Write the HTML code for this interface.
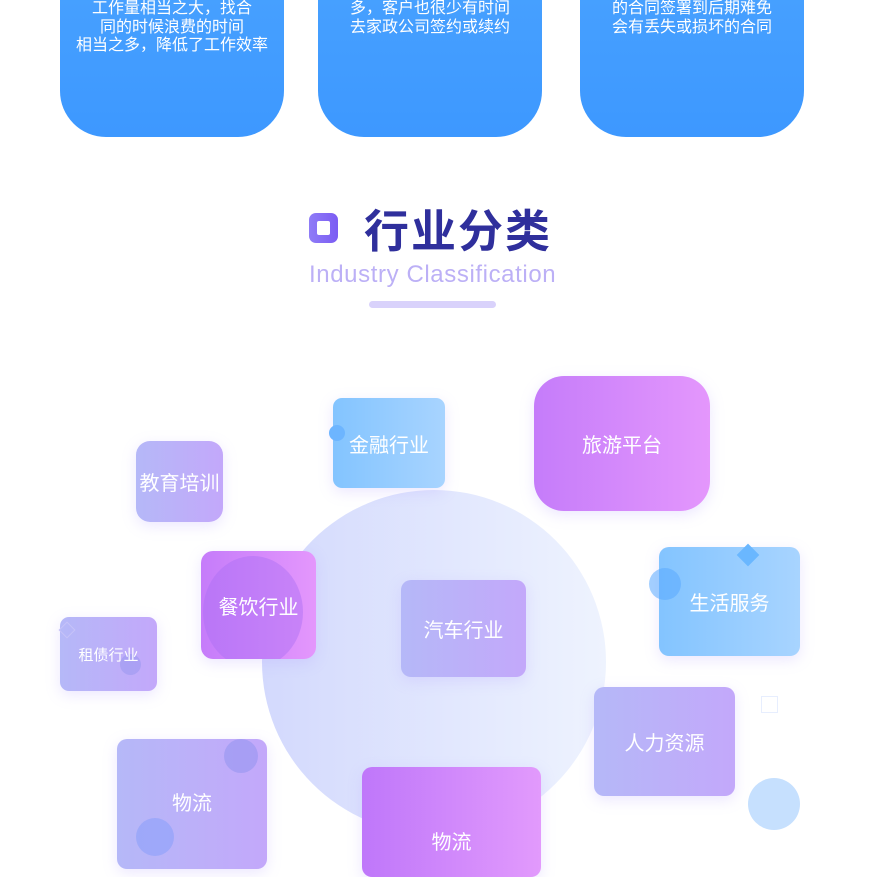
<!DOCTYPE html>
<html><head><meta charset="utf-8"><style>
*{margin:0;padding:0;box-sizing:border-box}
body{width:890px;height:849px;overflow:hidden;background:#fff;position:relative;font-family:"Liberation Sans","Noto Sans CJK SC",sans-serif}
.a{position:absolute}
.card{position:absolute;top:-60px;height:197px;width:224px;border-radius:0 0 46px 46px;background:linear-gradient(180deg,#4aa3ff,#3d98ff);color:#fff;font-size:16px;line-height:18.5px;text-align:center;padding-top:60px}
.b{position:absolute;display:flex;align-items:center;justify-content:center;color:#fff;font-size:20px;box-shadow:0 4px 14px rgba(180,160,255,.25)}
.lav{background:linear-gradient(90deg,#b5b8f8,#c3a8fa)}
.pur{background:linear-gradient(90deg,#c57cfa,#e497fc)}
.blu{background:linear-gradient(90deg,#83c4ff,#a8d4ff)}
.c{position:absolute;border-radius:50%}
</style></head><body>
<div class="card" style="left:60px">工作量相当之大，找合<br>同的时候浪费的时间<br>相当之多，降低了工作效率</div>
<div class="card" style="left:318px">多，客户也很少有时间<br>去家政公司签约或续约</div>
<div class="card" style="left:580px">的合同签署到后期难免<br>会有丢失或损坏的合同</div>

<div class="a" style="left:309px;top:213px;width:29px;height:30px;border-radius:7px;background:linear-gradient(90deg,#8f7cf7,#7b5cf3)"></div>
<div class="a" style="left:317px;top:221px;width:13px;height:14px;border-radius:2px;background:#fff"></div>
<div class="a" style="left:364px;top:202px;font-size:45px;color:#2f2f9c;font-weight:bold;letter-spacing:2px;line-height:60px">行业分类</div>
<div class="a" style="left:309px;top:261px;font-size:24px;letter-spacing:0.6px;color:#bcb0f6;line-height:28px">Industry Classification</div>
<div class="a" style="left:369px;top:301px;width:127px;height:7px;border-radius:4px;background:#d9d2fb"></div>

<div class="c" style="left:262px;top:490px;width:344px;height:344px;background:linear-gradient(90deg,#d3d9fd,#eef3fe)"></div>

<div class="b lav" style="left:136px;top:441px;width:87px;height:81px;border-radius:14px">教育培训</div>
<div class="b blu" style="left:333px;top:398px;width:112px;height:90px;border-radius:9px">金融行业</div>
<div class="c" style="left:329px;top:425px;width:16px;height:16px;background:#6db5ff"></div>
<div class="b pur" style="left:534px;top:376px;width:176px;height:135px;border-radius:30px">旅游平台</div>
<div class="b pur" style="left:201px;top:551px;width:115px;height:108px;border-radius:12px;overflow:hidden"><div class="c" style="left:2px;top:5px;width:100px;height:112px;background:rgba(170,110,245,.45)"></div><span style="position:relative">餐饮行业</span></div>
<div class="b lav" style="left:60px;top:617px;width:97px;height:74px;border-radius:9px;font-size:15px"><div class="c" style="left:60px;top:37px;width:21px;height:21px;background:rgba(150,150,240,.5)"></div><span style="position:relative">租债行业</span></div>
<div class="a" style="left:61px;top:624px;width:12px;height:12px;border:1px solid #c7c3f8;transform:rotate(45deg)"></div>
<div class="b lav" style="left:401px;top:580px;width:125px;height:97px;border-radius:10px">汽车行业</div>
<div class="b blu" style="left:659px;top:547px;width:141px;height:109px;border-radius:10px">生活服务</div>
<div class="c" style="left:649px;top:568px;width:32px;height:32px;background:rgba(90,170,255,.55)"></div>
<div class="a" style="left:740px;top:547px;width:16px;height:16px;background:#6ab7ff;transform:rotate(45deg)"></div>
<div class="b lav" style="left:594px;top:687px;width:141px;height:109px;border-radius:10px">人力资源</div>
<div class="a" style="left:761px;top:696px;width:17px;height:17px;border:1.5px solid #e7eefe"></div>
<div class="c" style="left:748px;top:778px;width:52px;height:52px;background:#c6e0fe"></div>
<div class="b lav" style="left:117px;top:739px;width:150px;height:130px;border-radius:10px;align-items:flex-start;padding-top:48px;overflow:hidden"><div class="c" style="left:107px;top:0;width:34px;height:34px;background:rgba(150,150,240,.6)"></div><div class="c" style="left:19px;top:79px;width:38px;height:38px;background:rgba(140,160,250,.6)"></div><span style="position:relative">物流</span></div>
<div class="b pur" style="left:362px;top:767px;width:179px;height:110px;border-radius:10px;align-items:flex-start;padding-top:59px;background:linear-gradient(90deg,#bf77fa,#e29afc)">物流</div>
</body></html>
